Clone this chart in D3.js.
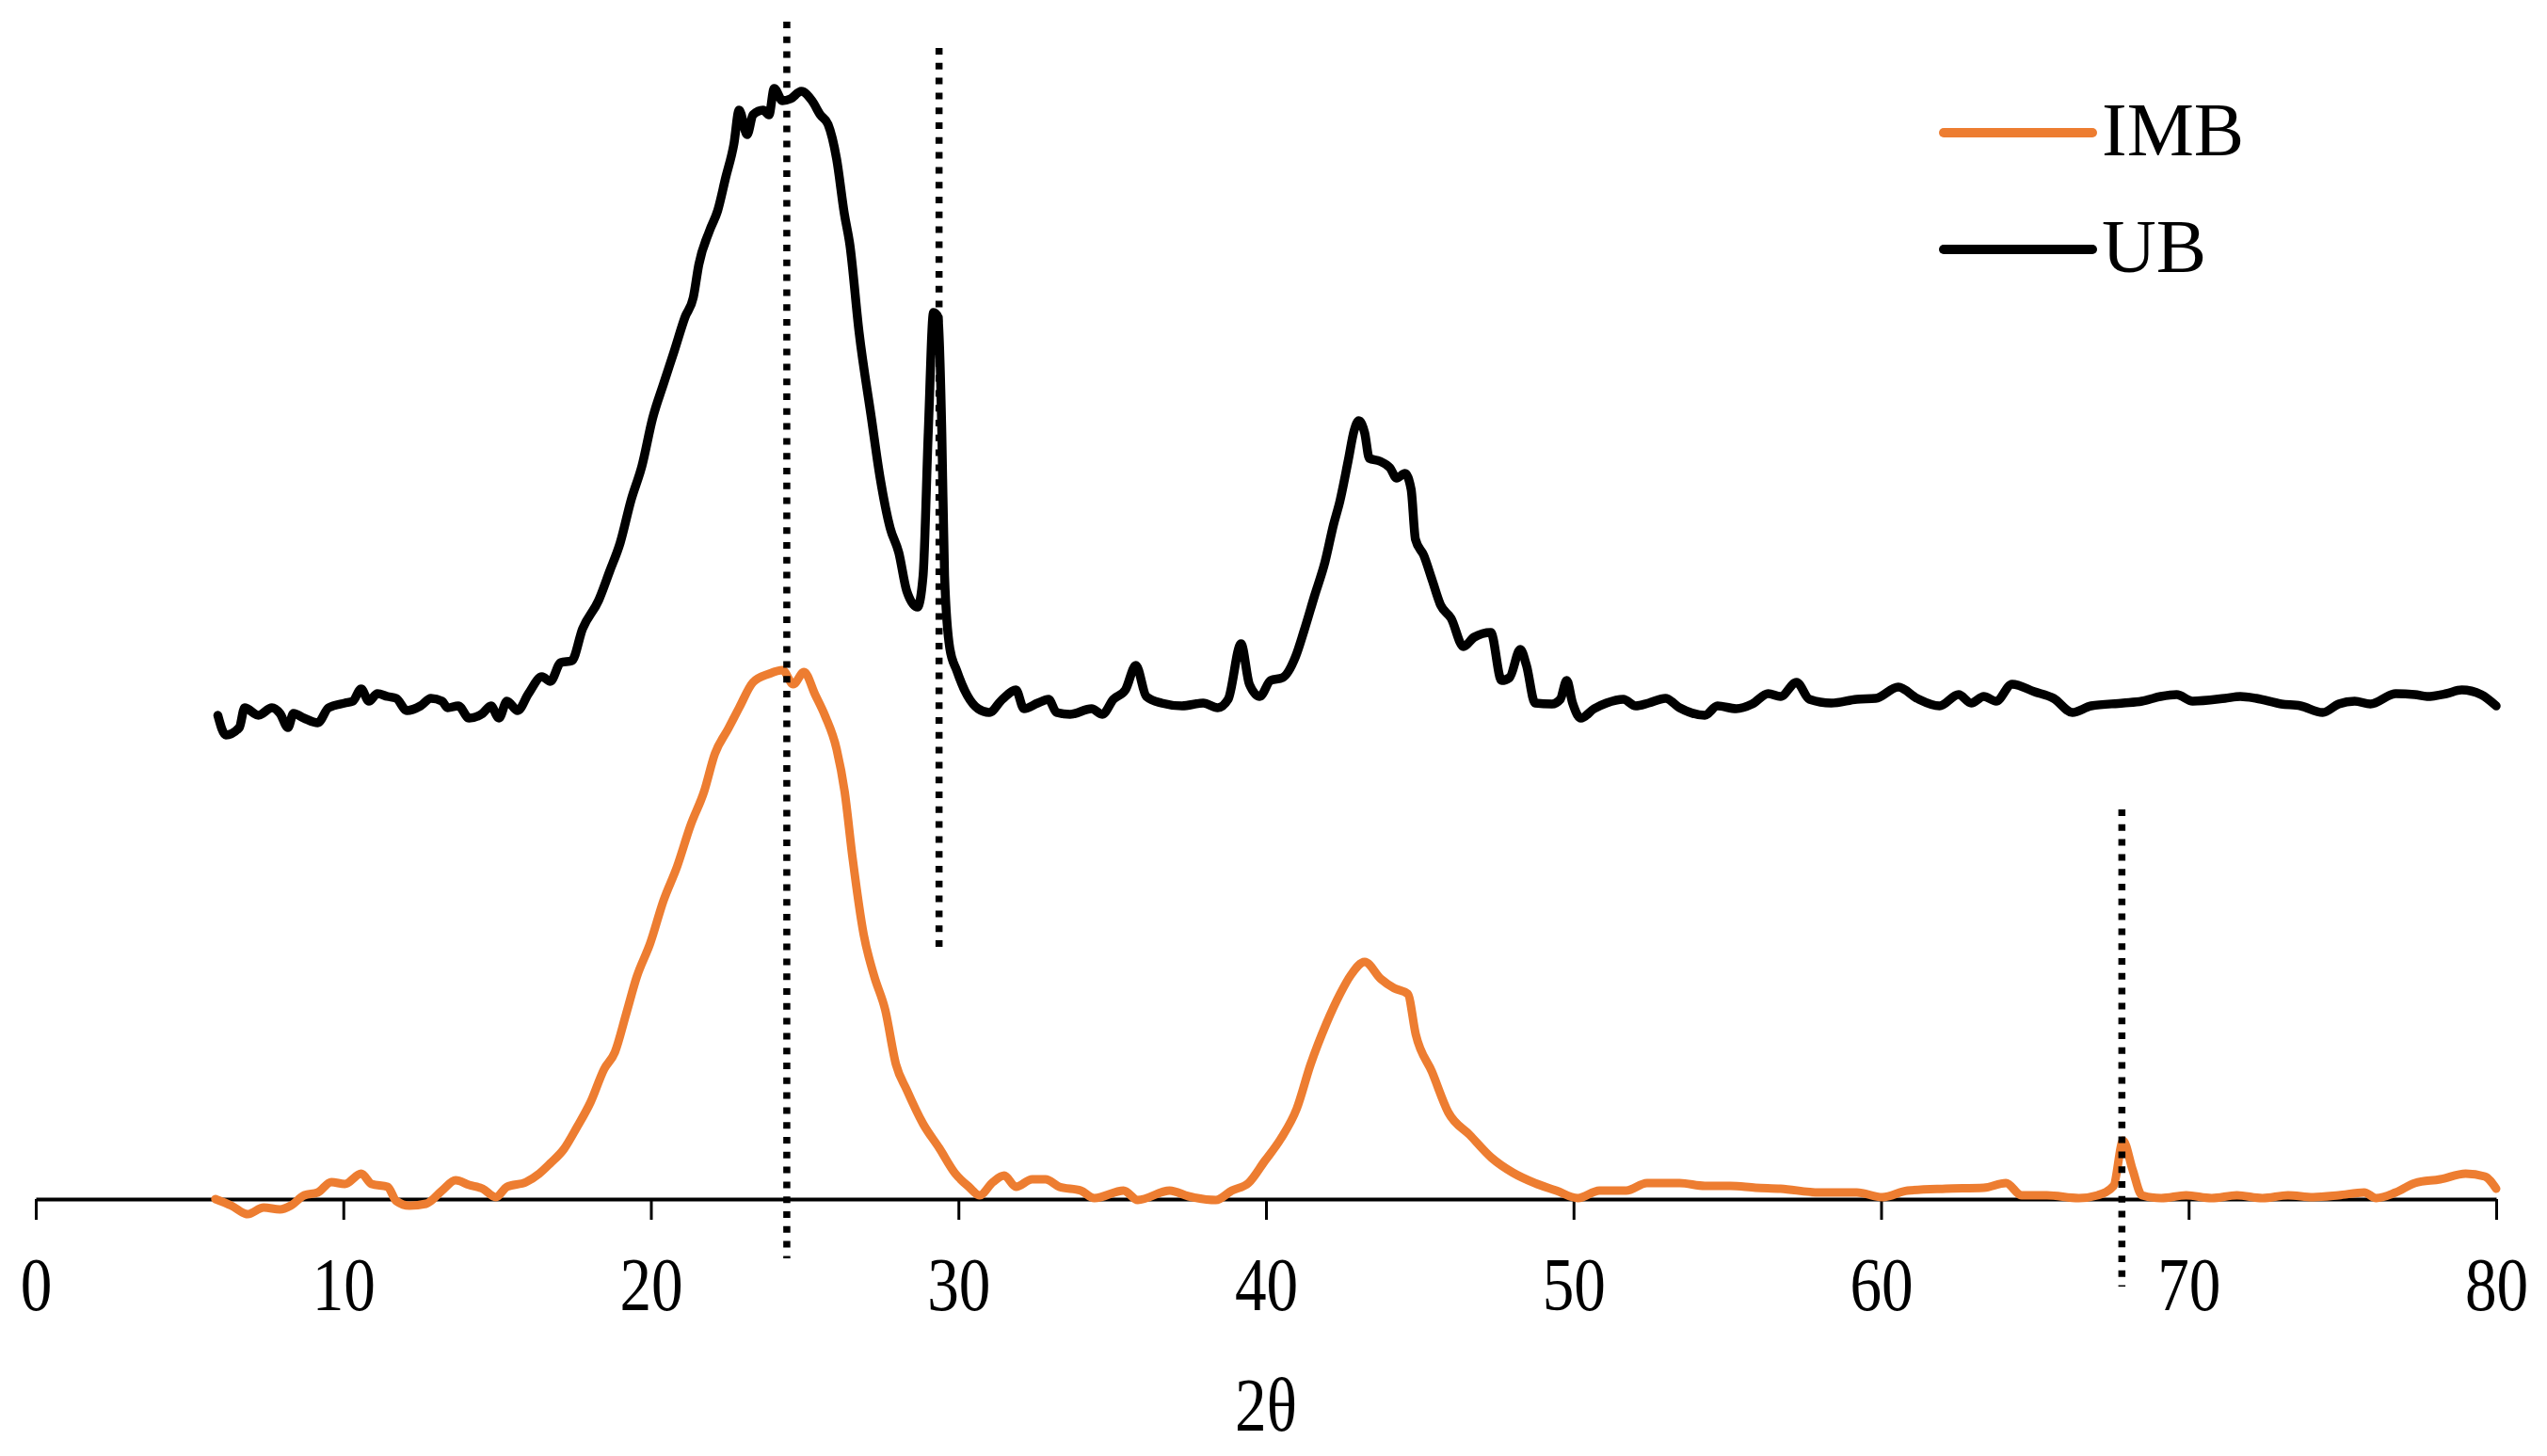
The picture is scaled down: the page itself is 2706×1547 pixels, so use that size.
<!DOCTYPE html>
<html>
<head>
<meta charset="utf-8">
<script src="https://cdn.jsdelivr.net/npm/d3@7"></script>
<style>
 body{margin:0;background:#fff;}
 svg{display:block;}
</style>
</head>
<body>
<div id="chart"></div>
<script>
// 2theta (deg), intensity (a.u.)
var ubPattern=[[5.92,514],[6.18,493],[6.62,501],[6.79,522],[7.24,514],[7.68,522],[7.94,516],[8.20,501],[8.38,516],[8.72,511],[9.17,506],[9.52,522],[10.05,527],[10.31,529],[10.58,542],[10.83,529],[11.11,537],[11.44,534],[11.72,532],[12.07,519],[12.51,524],[12.85,532],[13.21,529],[13.39,522],[13.74,524],[14.09,511],[14.53,516],[14.80,524],[15.06,511],[15.32,529],[15.67,519],[16.02,537],[16.46,555],[16.73,550],[17.07,570],[17.43,572],[17.78,606],[18.30,636],[18.66,667],[19.00,697],[19.36,743],[19.71,779],[20.06,830],[20.41,866],[20.77,902],[21.11,937],[21.38,958],[21.56,993],[21.91,1029],[22.17,1050],[22.43,1085],[22.70,1121],[22.87,1157],[23.13,1131],[23.32,1152],[23.65,1157],[23.84,1152],[24.01,1180],[24.28,1167],[24.54,1169],[24.89,1177],[25.24,1167],[25.51,1152],[25.76,1142],[26.04,1105],[26.29,1047],[26.47,1014],[26.77,921],[27.17,830],[27.44,769],[27.78,713],[28.06,687],[28.32,646],[28.67,629],[28.85,662],[29.02,815],[29.19,942],[29.34,937],[29.46,815],[29.55,662],[29.72,585],[29.94,562],[30.29,535],[30.64,521],[31.00,517],[31.43,531],[31.87,541],[32.13,521],[32.58,527],[32.93,531],[33.19,517],[33.63,515],[34.33,521],[34.68,515],[35.04,531],[35.43,541],[35.77,567],[36.11,534],[36.60,527],[37.27,524],[37.96,527],[38.43,522],[38.77,531],[39.19,590],[39.46,547],[39.80,534],[40.15,551],[40.54,554],[40.97,577],[41.24,604],[41.58,641],[41.92,677],[42.20,717],[42.40,741],[42.67,784],[42.87,817],[43.02,827],[43.21,814],[43.36,787],[43.70,784],[44.03,777],[44.25,766],[44.52,771],[44.72,754],[44.86,701],[45.13,684],[45.41,657],[45.68,631],[46.02,617],[46.42,587],[46.77,597],[47.31,602],[47.66,551],[47.92,554],[48.27,584],[48.47,567],[48.75,527],[49.30,526],[49.57,531],[49.78,551],[49.97,527],[50.24,511],[50.67,521],[51.07,527],[51.62,531],[52.02,524],[52.44,527],[52.99,532],[53.45,522],[54.27,514],[54.68,524],[55.29,521],[55.81,526],[56.33,537],[56.73,534],[57.25,549],[57.67,531],[58.38,527],[59.21,531],[59.82,532],[60.56,544],[61.17,532],[61.90,524],[62.52,536],[62.93,527],[63.34,534],[63.74,529],[64.26,547],[64.99,539],[65.61,532],[66.22,517],[66.83,524],[67.87,527],[68.48,529],[69.09,534],[69.61,536],[70.13,529],[71.18,532],[71.68,534],[72.20,532],[73.01,526],[73.64,524],[74.36,517],[74.88,526],[75.40,529],[75.91,526],[76.73,537],[77.36,536],[77.75,534],[78.38,537],[78.88,541],[79.51,536],[80.00,524]];

var imbPattern=[[5.84,0],[6.36,-7],[6.89,-16],[7.41,-9],[7.94,-11],[8.29,-7],[8.73,4],[9.17,7],[9.61,18],[10.05,16],[10.58,27],[10.92,16],[11.44,13],[11.72,-2],[12.15,-7],[12.69,-5],[13.21,9],[13.65,20],[14.09,15],[14.53,11],[14.96,2],[15.32,13],[15.94,18],[16.37,27],[16.73,38],[17.17,53],[17.59,76],[18.04,103],[18.48,138],[18.83,156],[19.19,196],[19.54,236],[19.98,272],[20.41,317],[20.85,353],[21.29,397],[21.73,433],[22.08,473],[22.52,500],[22.87,522],[23.32,549],[23.84,558],[24.28,562],[24.63,547],[24.98,560],[25.34,536],[25.67,513],[26.04,478],[26.30,433],[26.56,362],[26.92,281],[27.26,237],[27.62,201],[27.97,143],[28.32,116],[28.85,80],[29.38,54],[29.90,27],[30.34,13],[30.69,4],[31.12,18],[31.49,25],[31.87,13],[32.40,21],[32.83,21],[33.28,13],[33.98,9],[34.42,1],[35.37,9],[35.83,-1],[36.87,9],[37.48,3],[38.37,-1],[38.89,9],[39.43,17],[39.95,40],[40.48,64],[41.00,96],[41.45,143],[41.97,187],[42.41,218],[42.76,238],[43.21,252],[43.73,234],[44.17,224],[44.61,218],[44.87,175],[45.40,135],[45.93,92],[46.63,68],[47.33,44],[48.03,28],[48.74,17],[49.44,9],[50.14,1],[50.84,9],[51.71,9],[52.39,17],[53.45,17],[54.27,14],[55.10,14],[55.92,12],[56.73,11],[57.99,7],[59.21,7],[60.04,2],[60.86,9],[62.10,11],[63.34,12],[64.06,17],[64.57,4],[65.39,4],[66.43,1],[67.04,4],[67.56,14],[67.87,62],[68.18,31],[68.48,4],[69.11,1],[69.92,4],[70.75,1],[71.57,4],[72.40,1],[73.23,4],[74.05,2],[74.88,4],[75.71,7],[76.10,1],[76.73,7],[77.36,17],[78.18,21],[79.01,27],[79.63,24],[80.00,11]];

var xTicks=[0,10,20,30,40,50,60,70,80];
var seriesNames=["IMB","UB"];
// dotted reference lines: position and vertical extent (a.u.)
var refTheta=[24.42,29.37,67.83];
var refTop=[1251,1223,414];
var refBottom=[-63,266,-93];

var W=2706,H=1547;
var margin={left:38,right:54,top:0};
var axisY=1274;

var svg=d3.select("#chart").append("svg").attr("width",W).attr("height",H);

var x=d3.scaleLinear().domain([0,80]).range([margin.left,W-margin.right]);
var y=d3.scaleLinear().domain([0,1274]).range([axisY,margin.top]);

var colors={IMB:"#ED7D31",UB:"#000000"};

// axis
var axis=d3.axisBottom(x).tickValues(xTicks).tickSize(22).tickSizeOuter(0).tickFormat(d3.format("d"));
var gx=svg.append("g").attr("transform","translate(0,"+axisY+")").call(axis);
gx.select(".domain").attr("stroke","#000").attr("stroke-width",4);
gx.selectAll(".tick line").attr("stroke","#000").attr("stroke-width",3);
gx.selectAll(".tick text")
 .attr("font-family","'Liberation Serif','Times New Roman',serif")
 .attr("font-size",81)
 .attr("fill","#000")
 .attr("y",0).attr("dy",0)
 .attr("transform","translate(0,118) scale(0.83,1)");

svg.append("text")
 .attr("font-family","'Liberation Serif','Times New Roman',serif")
 .attr("font-size",81)
 .attr("text-anchor","middle")
 .attr("transform","translate("+x(40)+",1520) scale(0.83,1)")
 .text("2θ");

var line=d3.line().x(function(d){return x(d[0]);}).y(function(d){return y(d[1]);}).curve(d3.curveMonotoneX);

svg.append("path").datum(imbPattern)
 .attr("d",line).attr("fill","none")
 .attr("stroke",colors.IMB).attr("stroke-width",9)
 .attr("stroke-linejoin","round").attr("stroke-linecap","round");

svg.append("path").datum(ubPattern)
 .attr("d",line).attr("fill","none")
 .attr("stroke",colors.UB).attr("stroke-width",9.5)
 .attr("stroke-linejoin","round").attr("stroke-linecap","round");

// dotted markers
svg.selectAll("line.ref").data(refTheta).enter().append("line")
 .attr("class","ref")
 .attr("x1",function(d){return x(d);}).attr("x2",function(d){return x(d);})
 .attr("y1",function(d,i){return y(refTop[i]);})
 .attr("y2",function(d,i){return y(refBottom[i]);})
 .attr("stroke","#000").attr("stroke-width",7.5)
 .attr("stroke-dasharray","7 8.8");

// legend
var lg=svg.append("g").selectAll("g").data(seriesNames).enter().append("g")
 .attr("transform",function(d,i){return "translate(2065,"+(141+i*124)+")";});
lg.append("line").attr("x1",0).attr("x2",158).attr("y1",0).attr("y2",0)
 .attr("stroke",function(d){return colors[d];}).attr("stroke-width",10).attr("stroke-linecap","round");
lg.append("text").attr("x",168).attr("y",24)
 .attr("font-family","'Liberation Serif','Times New Roman',serif")
 .attr("font-size",80).attr("fill","#000")
 .text(function(d){return d;});
</script>
</body>
</html>
